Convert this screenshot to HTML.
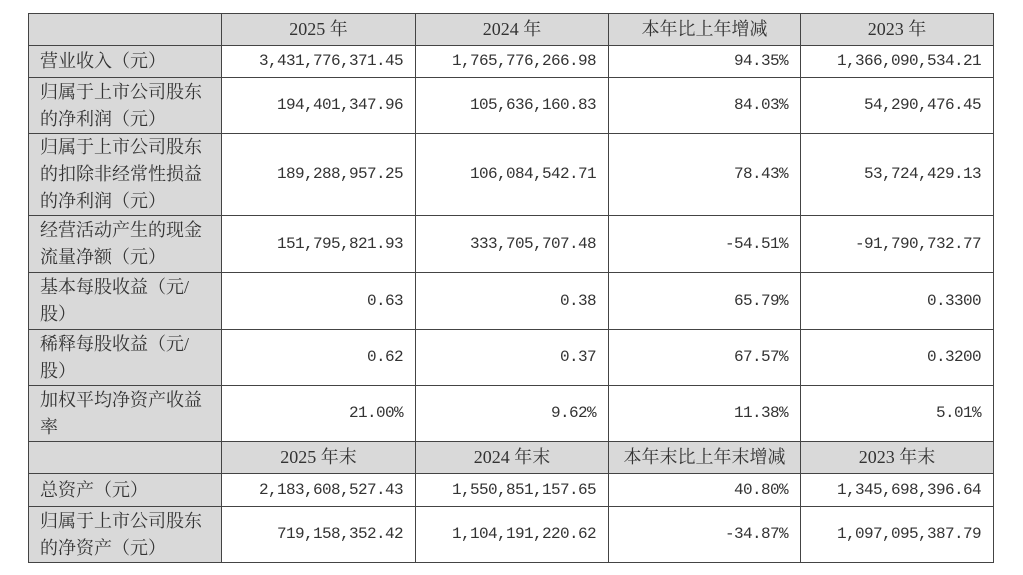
<!DOCTYPE html>
<html><head><meta charset="utf-8"><style>
body{margin:0;background:#fff;width:1023px;height:575px;position:relative;overflow:hidden}
table{position:absolute;left:28px;top:13px;border-collapse:collapse;table-layout:fixed;width:965px}
td{border:1.5px solid #444;padding:0;color:#333;font-family:"Liberation Serif","Noto Serif CJK SC",serif;font-size:18px;line-height:27px}
td.l{background:#d9d9d9;text-align:left;padding-left:11px}
td.h{background:#d9d9d9;text-align:center}
td.n{text-align:right;padding-right:12px;font-family:"Liberation Mono","Noto Serif CJK SC",monospace;font-size:16px;letter-spacing:-0.6px}
</style></head><body>
<table>
<colgroup><col style="width:193px"><col style="width:194px"><col style="width:193px"><col style="width:192px"><col style="width:193px"></colgroup>
<tr style="height:32px"><td class="h"></td><td class="h">2025 年</td><td class="h">2024 年</td><td class="h">本年比上年增减</td><td class="h">2023 年</td></tr>
<tr style="height:32px"><td class="l">营业收入（元）</td><td class="n">3,431,776,371.45</td><td class="n">1,765,776,266.98</td><td class="n">94.35%</td><td class="n">1,366,090,534.21</td></tr>
<tr style="height:56px"><td class="l">归属于上市公司股东<br>的净利润（元）</td><td class="n">194,401,347.96</td><td class="n">105,636,160.83</td><td class="n">84.03%</td><td class="n">54,290,476.45</td></tr>
<tr style="height:80px"><td class="l">归属于上市公司股东<br>的扣除非经常性损益<br>的净利润（元）</td><td class="n">189,288,957.25</td><td class="n">106,084,542.71</td><td class="n">78.43%</td><td class="n">53,724,429.13</td></tr>
<tr style="height:57px"><td class="l">经营活动产生的现金<br>流量净额（元）</td><td class="n">151,795,821.93</td><td class="n">333,705,707.48</td><td class="n">-54.51%</td><td class="n">-91,790,732.77</td></tr>
<tr style="height:57px"><td class="l">基本每股收益（元/<br>股）</td><td class="n">0.63</td><td class="n">0.38</td><td class="n">65.79%</td><td class="n">0.3300</td></tr>
<tr style="height:56px"><td class="l">稀释每股收益（元/<br>股）</td><td class="n">0.62</td><td class="n">0.37</td><td class="n">67.57%</td><td class="n">0.3200</td></tr>
<tr style="height:56px"><td class="l">加权平均净资产收益<br>率</td><td class="n">21.00%</td><td class="n">9.62%</td><td class="n">11.38%</td><td class="n">5.01%</td></tr>
<tr style="height:32px"><td class="h"></td><td class="h">2025 年末</td><td class="h">2024 年末</td><td class="h">本年末比上年末增减</td><td class="h">2023 年末</td></tr>
<tr style="height:33px"><td class="l">总资产（元）</td><td class="n">2,183,608,527.43</td><td class="n">1,550,851,157.65</td><td class="n">40.80%</td><td class="n">1,345,698,396.64</td></tr>
<tr style="height:56px"><td class="l">归属于上市公司股东<br>的净资产（元）</td><td class="n">719,158,352.42</td><td class="n">1,104,191,220.62</td><td class="n">-34.87%</td><td class="n">1,097,095,387.79</td></tr>
</table>
</body></html>
